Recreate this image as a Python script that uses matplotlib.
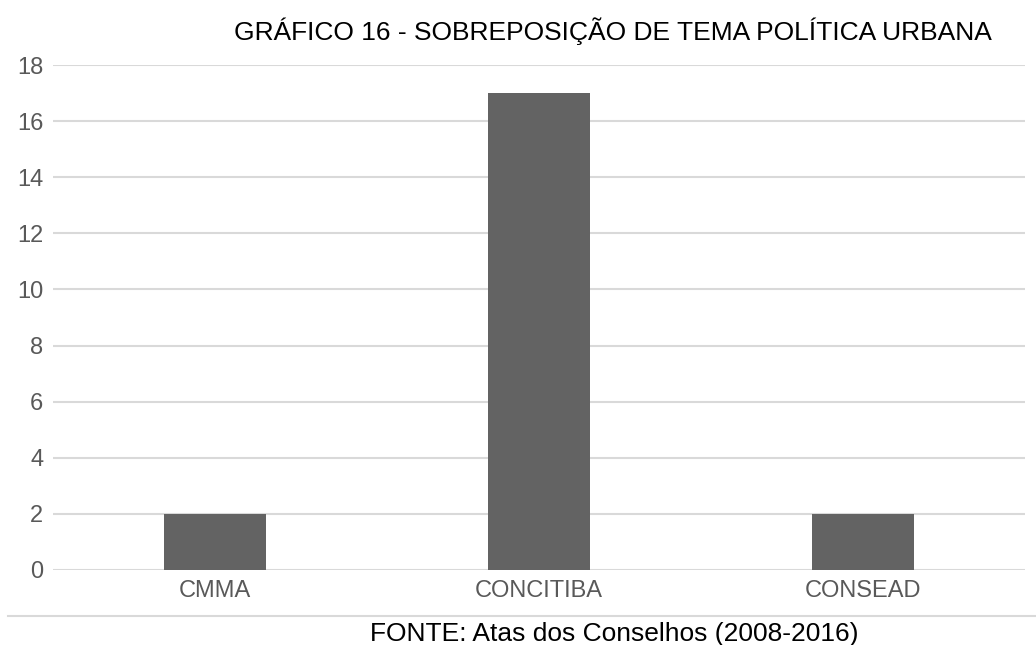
import matplotlib
matplotlib.use("Agg")
import matplotlib.pyplot as plt
import numpy as np

plt.rcParams['font.family'] = ['Liberation Sans', 'DejaVu Sans']

# Data
categories = ['CMMA', 'CONCITIBA', 'CONSEAD']
values = [2, 17, 2]
yticks = list(range(0, 19, 2))

fig = plt.figure(figsize=(10.36, 6.45), dpi=100)
ax = fig.add_axes([53 / 1036, 0.1163, 972 / 1036, 0.7829])

x = np.arange(len(categories))
ax.bar(x, values, width=0.312, color='#636363', zorder=3)

ax.set_xlim(-0.5, len(categories) - 0.5)
ax.set_ylim(0, 18)
ax.set_yticks(yticks)
ax.set_xticks(x)
ax.set_xticklabels(categories)
ax.grid(axis='y', color='#d9d9d9', linewidth=1.5, zorder=0)
ax.tick_params(axis='both', length=0, labelsize=17, colors='#595959')
ax.tick_params(axis='y', pad=7)
ax.tick_params(axis='x', pad=7)
for s in ax.spines.values():
    s.set_visible(False)

# Title and footer
fig.text(613 / 1036, 1 - 40 / 645, 'GRÁFICO 16 - SOBREPOSIÇÃO DE TEMA POLÍTICA URBANA',
         ha='center', va='baseline', fontsize=19, color='black')
fig.add_artist(plt.Line2D([8 / 1036, 1.0], [1 - 616 / 645] * 2, color='#d9d9d9', linewidth=1.5))
fig.text(614.5 / 1036, 1 - 641 / 645, 'FONTE: Atas dos Conselhos (2008-2016)',
         ha='center', va='baseline', fontsize=19, color='black')

plt.savefig('out.png', dpi=100)
